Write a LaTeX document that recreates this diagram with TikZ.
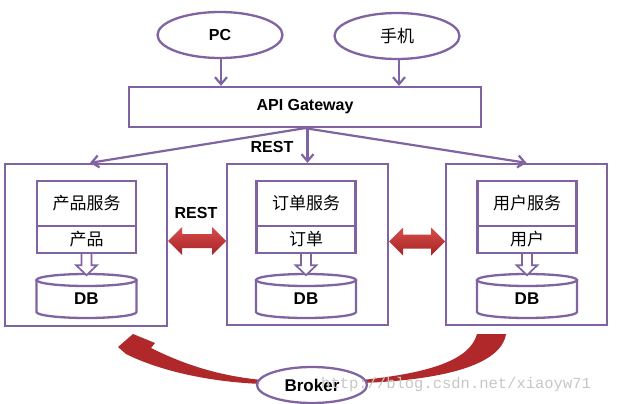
\documentclass[tikz,border=0pt]{standalone}
\usepackage{fontspec}
\setmainfont{Liberation Sans}
\newfontfamily\cjk{Noto Sans CJK SC}
\newfontfamily\wmfont{Liberation Mono}
\usetikzlibrary{shapes.geometric,arrows.meta,calc}
\definecolor{pur}{HTML}{8064A2}
\definecolor{redA}{HTML}{D64D4B}
\definecolor{redB}{HTML}{A82325}
\definecolor{redC}{HTML}{B0282A}
\newcommand\mydb[2]{%
  \draw[pur,line width=2.3pt,fill=white] (#1-50,280) -- (#1-50,312) arc[start angle=180,end angle=360,x radius=50pt,y radius=6pt] -- (#1+50,280);
  \draw[pur,line width=2.3pt,fill=white] (#1,280) ellipse[x radius=50pt,y radius=6pt];
  \node[lbl,font=\fontsize{17}{19}\selectfont\bfseries] (#2) at (#1,299) {DB};
}
\begin{document}
\begin{tikzpicture}[x=1pt,y=-1pt,
  box/.style={draw=pur,line width=2.3pt,fill=white,inner sep=0pt},
  ell/.style={ellipse,draw=pur,line width=2.3pt,fill=white,inner sep=0pt},
  conn/.style={draw=pur,line width=2.2pt,-{Straight Barb[length=7pt,width=12pt]}},
  lbl/.style={font=\fontsize{16}{18}\selectfont\bfseries},
  zh/.style={font=\fontsize{17}{19}\selectfont\cjk},
  hol/.style={draw=pur,line width=1.7pt,fill=white,line join=miter},
  redarrow/.style={top color=redA,bottom color=redB}]
\useasboundingbox (0,0) rectangle (640,404);
\fill[white] (0,0) rectangle (640,404);

% clients
\node[ell,minimum width=125pt,minimum height=46pt,lbl] (pc) at (220,35) {PC};
\node[ell,minimum width=125pt,minimum height=46pt,zh] (phone) at (397,36) {手机};
\node[box,minimum width=352pt,minimum height=40pt,lbl] (gw) at (305,107) {API Gateway};
\draw[conn] (pc.south -| 221,0) -- (gw.north -| 221,0);
\draw[conn] (phone.south -| 399,0) -- (gw.north -| 399,0);

% service containers
\node[box,minimum width=162pt,minimum height=162pt] (L) at (86,245) {};
\node[box,minimum width=161pt,minimum height=161pt] (M) at (307.5,244.5) {};
\node[box,minimum width=161pt,minimum height=161pt] (R) at (526.5,244.5) {};

\draw[conn] (gw.south) -- ($(L.north)+(4,0)$);
\draw[conn] (gw.south -| M.north) -- (M.north);
\draw[conn] (gw.south) -- (R.north);
\node[lbl] (rest1) at (272,147) {REST};

% inner services
\node[box,minimum width=99pt,minimum height=45pt,zh] (ls1) at (86.5,203.5) {产品服务};
\node[box,minimum width=99pt,minimum height=27pt,zh] (ls2) at (86.5,239.5) {产品};
\node[box,minimum width=99pt,minimum height=45pt,zh] (ms1) at (306,203.5) {订单服务};
\node[box,minimum width=99pt,minimum height=27pt,zh] (ms2) at (306,239.5) {订单};
\node[box,minimum width=99pt,minimum height=45pt,zh] (rs1) at (527,203.5) {用户服务};
\node[box,minimum width=99pt,minimum height=27pt,zh] (rs2) at (527,239.5) {用户};

\mydb{86.5}{ldb}
\mydb{306}{mdb}
\mydb{527}{rdb}

\foreach \s in {ls2,ms2,rs2}{
  \draw[hol] ($(\s.south)+(-5,0)$) -- ++(0,11) -- ++(-5.5,0) -- ++(10.5,10) -- ++(10.5,-10) -- ++(-5.5,0) -- ++(0,-11);
}

% REST double arrows
\shade[redarrow] ($(L.east)+(0,-4)$) -- ++(14,-14) -- ++(0,7) -- ++(30,0) -- ++(0,-7) -- ++(14,14) -- ++(-14,14) -- ++(0,-7) -- ++(-30,0) -- ++(0,7) -- cycle;
\shade[redarrow] ($(M.east)+(0,-3)$) -- ++(14,-14) -- ++(0,7) -- ++(28,0) -- ++(0,-7) -- ++(14,14) -- ++(-14,14) -- ++(0,-7) -- ++(-28,0) -- ++(0,7) -- cycle;
\node[lbl] (rest2) at (196,213) {REST};

% broker curves
\fill[redC] (118,347) -- (133,334) -- (155,343) -- (151,348) .. controls (185,365) and (220,376) .. (262,380)
  -- (262,384) .. controls (210,382) and (160,371) .. (126,354) -- cycle;
\fill[redC] (506,334) .. controls (501,366) and (440,380) .. (362,383)
  -- (362,380) .. controls (430,373) and (470,360) .. (477,334) -- cycle;
\node[ell,minimum width=110pt,minimum height=36pt,lbl,font=\fontsize{17}{19}\selectfont\bfseries] (broker) at (312,385) {Broker};

% watermark
\node[anchor=west,inner sep=0pt,text=black!22,font=\wmfont\fontsize{15.5}{17}\selectfont] (wm) at (321,384) {http://blog.csdn.net/xiaoyw71};
\end{tikzpicture}
\end{document}
